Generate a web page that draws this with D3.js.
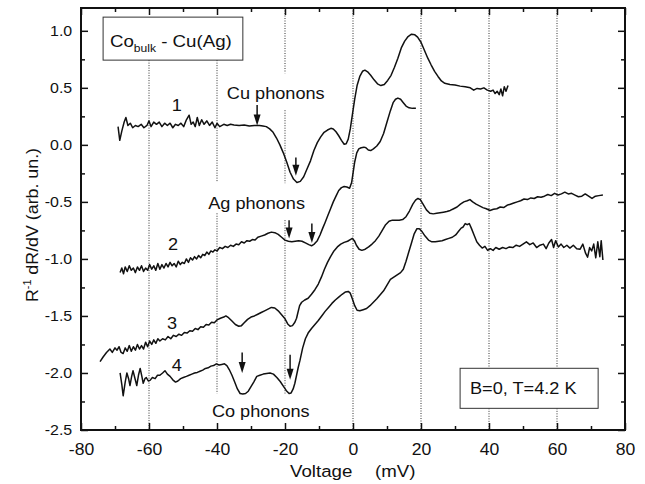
<!DOCTYPE html>
<html>
<head>
<meta charset="utf-8">
<script src="https://cdn.jsdelivr.net/npm/d3@7"></script>
<style>
body { margin: 0; background: #fff; }
svg text { font-family: "Liberation Sans", Arial, sans-serif; fill: #111; }
</style>
</head>
<body>
<div id="chart"></div>
<script>
// Curve 1
var curve1V = [-69.1,-68.6,-68.0,-67.3,-66.8,-66.2,-65.5,-64.8,-64.0,-63.2,-62.3,-61.5,-60.6,-60.0,-59.4,-58.6,-57.8,-57.0,-56.2,-55.4,-54.6,-53.8,-53.0,-52.2,-51.4,-50.6,-49.8,-49.0,-48.2,-47.6,-47.0,-46.4,-45.8,-45.2,-44.5,-43.8,-43.0,-42.2,-41.4,-40.6,-40.0,-39.2,-38.0,-37.0,-36.0,-35.0,-33.5,-32.0,-30.5,-29.0,-27.5,-26.5,-25.5,-24.5,-23.5,-22.5,-21.5,-20.5,-19.5,-18.5,-17.5,-16.5,-15.5,-14.5,-13.5,-12.5,-11.5,-10.5,-9.5,-8.5,-7.5,-6.5,-5.8,-5.0,-4.2,-3.4,-2.6,-2.0,-1.4,-0.8,-0.2,0.5,1.2,2.0,2.8,3.5,4.3,5.2,6.2,7.2,8.2,9.2,10.2,11.2,12.2,13.2,14.2,15.2,16.2,17.2,18.2,19.0,20.0,21.0,22.0,23.0,24.0,25.0,26.0,27.0,28.5,30.0,31.5,33.0,34.5,35.5,36.5,37.5,38.5,39.5,40.5,41.2,41.8,42.4,43.0,43.5,44.0,44.5,45.0,45.6];
var curve1Y = [0.16,0.04,0.12,0.20,0.24,0.17,0.19,0.15,0.17,0.16,0.18,0.15,0.17,0.21,0.16,0.20,0.18,0.20,0.16,0.19,0.17,0.19,0.15,0.18,0.17,0.19,0.16,0.22,0.26,0.18,0.20,0.16,0.24,0.17,0.22,0.18,0.21,0.17,0.20,0.15,0.19,0.16,0.18,0.17,0.18,0.175,0.17,0.175,0.165,0.17,0.17,0.165,0.16,0.14,0.11,0.06,0.00,-0.07,-0.15,-0.24,-0.30,-0.33,-0.32,-0.28,-0.21,-0.14,-0.05,0.02,0.07,0.11,0.13,0.145,0.14,0.115,0.08,0.04,0.005,0.01,0.05,0.14,0.26,0.40,0.52,0.60,0.645,0.655,0.64,0.61,0.57,0.535,0.52,0.53,0.565,0.61,0.68,0.76,0.85,0.91,0.95,0.97,0.965,0.945,0.90,0.83,0.76,0.70,0.645,0.60,0.56,0.54,0.53,0.525,0.515,0.51,0.50,0.48,0.495,0.49,0.50,0.48,0.47,0.48,0.45,0.47,0.44,0.49,0.43,0.51,0.47,0.52];

// Curve 2
var curve2V = [-68.5,-68.0,-67.5,-67.0,-66.4,-65.8,-65.2,-64.6,-64.0,-63.4,-62.8,-62.2,-61.6,-61.0,-60.4,-59.8,-59.2,-58.6,-58.0,-57.4,-56.8,-56.2,-55.6,-55.0,-54.4,-53.8,-53.2,-52.6,-52.0,-51.4,-50.8,-50.2,-49.6,-49.0,-48.4,-47.8,-47.2,-46.6,-46.0,-45.4,-44.8,-44.2,-43.6,-43.0,-42.4,-41.8,-41.2,-40.6,-40.0,-39.2,-38.4,-37.6,-36.8,-36.0,-35.2,-34.4,-33.6,-32.8,-32.0,-31.2,-30.4,-29.6,-28.8,-28.0,-27.0,-26.0,-25.0,-24.0,-23.0,-22.0,-21.0,-20.0,-19.0,-18.0,-17.0,-16.0,-15.0,-14.0,-13.0,-12.2,-11.4,-10.5,-9.7,-8.9,-8.2,-7.4,-6.6,-5.8,-5.0,-4.2,-3.4,-2.6,-1.8,-1.0,-0.4,0.0,0.5,1.1,1.7,2.4,3.2,3.8,4.5,5.2,6.0,7.0,8.0,9.0,10.0,11.0,11.8,12.5,13.2,14.0,14.8,15.6,16.5,17.5,18.5];
var curve2Y = [-1.12,-1.08,-1.13,-1.07,-1.11,-1.06,-1.10,-1.08,-1.12,-1.07,-1.10,-1.06,-1.11,-1.08,-1.10,-1.05,-1.09,-1.06,-1.10,-1.04,-1.09,-1.05,-1.08,-1.04,-1.07,-1.03,-1.06,-1.04,-1.07,-1.02,-1.05,-1.03,-1.04,-1.00,-1.03,-0.99,-1.01,-0.98,-1.00,-0.97,-0.99,-0.96,-0.97,-0.94,-0.96,-0.93,-0.94,-0.92,-0.93,-0.90,-0.91,-0.89,-0.90,-0.88,-0.89,-0.87,-0.875,-0.85,-0.86,-0.84,-0.845,-0.83,-0.835,-0.81,-0.80,-0.79,-0.775,-0.765,-0.77,-0.785,-0.81,-0.835,-0.845,-0.85,-0.845,-0.84,-0.845,-0.86,-0.875,-0.885,-0.87,-0.84,-0.79,-0.73,-0.68,-0.62,-0.56,-0.50,-0.45,-0.40,-0.375,-0.365,-0.37,-0.38,-0.33,-0.25,-0.15,-0.07,-0.035,-0.025,-0.02,-0.025,-0.045,-0.05,-0.035,-0.01,0.03,0.10,0.20,0.30,0.37,0.40,0.41,0.40,0.37,0.34,0.325,0.32,0.32];

// Curve 3
var curve3V = [-74.4,-73.5,-72.5,-71.5,-70.8,-70.0,-69.4,-68.8,-68.2,-67.6,-67.0,-66.4,-65.8,-65.2,-64.6,-64.0,-63.4,-62.8,-62.2,-61.6,-61.0,-60.4,-59.8,-59.2,-58.6,-58.0,-57.4,-56.8,-56.0,-55.2,-54.4,-53.6,-52.8,-52.0,-51.2,-50.4,-49.6,-48.8,-48.0,-47.2,-46.4,-45.6,-44.8,-44.0,-43.2,-42.4,-41.6,-40.8,-40.0,-39.0,-38.0,-37.4,-36.6,-35.6,-34.6,-33.6,-32.8,-32.0,-31.0,-30.0,-29.0,-28.0,-27.0,-26.0,-25.0,-24.0,-23.0,-22.0,-21.0,-20.0,-19.2,-18.5,-17.8,-17.1,-16.6,-16.2,-15.7,-15.1,-14.2,-13.2,-12.2,-11.2,-10.2,-9.3,-8.4,-7.5,-6.6,-5.6,-4.6,-3.6,-2.6,-1.6,-0.8,-0.2,0.4,1.0,1.8,2.6,3.6,4.6,5.6,6.6,7.6,8.6,9.6,10.6,11.6,12.6,13.6,14.6,15.6,16.6,17.6,18.4,19.1,19.8,20.6,21.6,22.6,23.6,24.6,25.6,26.6,27.6,28.6,29.6,30.6,31.6,32.6,33.6,34.4,35.2,36.2,37.2,38.2,39.2,40.3,41.3,42.3,43.3,44.3,45.3,46.3,47.3,48.3,49.3,50.3,51.3,52.3,53.3,54.3,55.3,56.3,57.3,58.3,59.3,60.3,61.3,62.3,63.3,64.3,65.3,66.3,67.3,68.3,69.3,70.3,71.3,72.3,73.5];
var curve3Y = [-1.90,-1.86,-1.82,-1.79,-1.82,-1.78,-1.80,-1.77,-1.82,-1.83,-1.78,-1.81,-1.76,-1.81,-1.77,-1.80,-1.75,-1.79,-1.76,-1.79,-1.73,-1.77,-1.72,-1.75,-1.71,-1.74,-1.70,-1.72,-1.70,-1.71,-1.68,-1.70,-1.67,-1.68,-1.66,-1.67,-1.645,-1.65,-1.63,-1.635,-1.61,-1.62,-1.595,-1.60,-1.575,-1.58,-1.555,-1.56,-1.535,-1.52,-1.51,-1.50,-1.515,-1.545,-1.575,-1.59,-1.585,-1.56,-1.53,-1.51,-1.50,-1.485,-1.47,-1.455,-1.44,-1.425,-1.43,-1.455,-1.49,-1.525,-1.57,-1.59,-1.585,-1.555,-1.52,-1.47,-1.41,-1.38,-1.36,-1.345,-1.31,-1.27,-1.22,-1.16,-1.09,-1.03,-0.98,-0.93,-0.895,-0.87,-0.855,-0.845,-0.83,-0.82,-0.84,-0.88,-0.915,-0.925,-0.915,-0.895,-0.87,-0.84,-0.80,-0.75,-0.70,-0.67,-0.66,-0.66,-0.66,-0.655,-0.63,-0.58,-0.52,-0.485,-0.47,-0.48,-0.52,-0.57,-0.60,-0.605,-0.60,-0.595,-0.59,-0.585,-0.575,-0.56,-0.545,-0.52,-0.50,-0.49,-0.48,-0.50,-0.52,-0.535,-0.55,-0.56,-0.575,-0.565,-0.56,-0.545,-0.55,-0.53,-0.52,-0.51,-0.50,-0.49,-0.475,-0.48,-0.465,-0.47,-0.455,-0.46,-0.45,-0.435,-0.445,-0.425,-0.44,-0.43,-0.415,-0.43,-0.425,-0.44,-0.455,-0.45,-0.43,-0.45,-0.47,-0.45,-0.445,-0.44];

// Curve 4
var curve4V = [-68.5,-68.0,-67.6,-67.0,-66.5,-66.0,-65.6,-65.1,-64.7,-64.2,-63.6,-63.1,-62.6,-62.1,-61.7,-61.2,-60.8,-60.2,-59.7,-59.0,-58.2,-57.5,-56.8,-56.0,-55.3,-54.6,-53.8,-53.0,-52.2,-51.5,-50.7,-49.9,-49.0,-48.2,-47.4,-46.6,-45.8,-45.0,-44.2,-43.4,-42.6,-41.8,-41.0,-40.2,-39.4,-38.6,-37.8,-37.1,-36.4,-35.6,-34.8,-34.0,-33.2,-32.4,-31.6,-30.8,-30.0,-29.2,-28.3,-27.4,-26.4,-25.4,-24.4,-23.4,-22.4,-21.4,-20.4,-19.6,-18.8,-18.2,-17.6,-17.1,-16.6,-16.1,-15.6,-14.8,-14.0,-13.2,-12.2,-11.2,-10.2,-9.2,-8.2,-7.2,-6.2,-5.2,-4.2,-3.2,-2.2,-1.4,-0.8,-0.2,0.5,1.2,2.0,3.0,4.0,5.0,6.0,7.0,8.0,9.0,10.0,11.0,12.0,13.0,14.0,14.8,15.6,16.4,17.2,18.0,18.8,19.5,20.3,21.2,22.2,23.2,24.2,25.2,26.2,27.2,28.2,29.2,30.2,31.0,31.8,32.4,33.0,33.6,34.2,34.8,35.6,36.4,37.2,38.0,38.8,39.6,40.4,41.2,42.0,43.0,44.0,45.0,46.0,47.0,48.0,49.0,50.0,51.0,52.0,53.0,54.0,55.0,56.0,56.8,57.6,58.4,59.0,59.6,60.4,61.2,62.0,62.9,63.8,64.8,65.8,66.8,67.6,68.4,69.0,69.6,70.2,70.8,71.4,72.0,72.6,73.0,73.5];
var curve4Y = [-2.00,-2.10,-2.20,-2.08,-2.00,-2.05,-2.11,-2.03,-1.98,-2.04,-2.11,-2.02,-1.96,-2.03,-2.09,-2.05,-2.04,-2.07,-2.065,-2.04,-2.05,-2.02,-2.02,-2.00,-1.98,-2.01,-2.03,-2.06,-2.08,-2.07,-2.05,-2.04,-2.03,-2.02,-2.01,-2.00,-1.995,-1.985,-1.975,-1.96,-1.955,-1.94,-1.935,-1.92,-1.93,-1.925,-1.92,-1.935,-1.97,-2.02,-2.08,-2.14,-2.18,-2.185,-2.18,-2.16,-2.12,-2.08,-2.03,-2.02,-2.01,-2.005,-2.00,-2.01,-2.04,-2.075,-2.12,-2.155,-2.18,-2.175,-2.14,-2.09,-2.02,-1.95,-1.89,-1.78,-1.70,-1.65,-1.61,-1.575,-1.54,-1.50,-1.46,-1.425,-1.39,-1.36,-1.335,-1.31,-1.29,-1.285,-1.30,-1.35,-1.41,-1.45,-1.455,-1.445,-1.435,-1.41,-1.38,-1.35,-1.315,-1.28,-1.23,-1.18,-1.16,-1.14,-1.12,-1.09,-1.02,-0.94,-0.86,-0.78,-0.735,-0.735,-0.76,-0.80,-0.835,-0.85,-0.85,-0.845,-0.84,-0.83,-0.82,-0.81,-0.79,-0.76,-0.73,-0.72,-0.69,-0.70,-0.69,-0.73,-0.79,-0.85,-0.88,-0.905,-0.89,-0.925,-0.91,-0.925,-0.90,-0.915,-0.90,-0.91,-0.895,-0.90,-0.88,-0.89,-0.87,-0.85,-0.875,-0.86,-0.90,-0.88,-0.87,-0.91,-0.86,-0.83,-0.90,-0.84,-0.895,-0.87,-0.90,-0.88,-0.905,-0.88,-0.91,-0.915,-0.87,-0.95,-0.985,-0.90,-0.93,-0.87,-0.99,-0.85,-0.98,-0.84,-1.01];

// Ticks
var xMajor = [-80, -60, -40, -20, 0, 20, 40, 60, 80];
var xMinor = [-70, -50, -30, -10, 10, 30, 50, 70];
var yMajor = [-2.5, -2.0, -1.5, -1.0, -0.5, 0.0, 0.5, 1.0];
var yMinor = [-2.25, -1.75, -1.25, -0.75, -0.25, 0.25, 0.75];

// Phonon arrows (mV, top of arrow, tip of arrow)
var arrowV = [-28.2, -16.8, -18.8, -12.1, -32.6, -18.5];
var arrowTop = [0.35, -0.11, -0.66, -0.69, -1.82, -1.84];
var arrowTip = [0.17, -0.27, -0.82, -0.86, -2.00, -2.06];

// Curve numbers
var curveNames = ["1", "2", "3", "4"];
var nameV = [-51.8, -52.9, -53.2, -51.8];
var nameY = [0.30, -0.924, -1.617, -1.985];

// SVG area
var svgWidth = 645;
var svgHeight = 484;
var margin = {top: 8, right: 20, bottom: 54, left: 81};
var chartWidth = svgWidth - margin.left - margin.right;
var chartHeight = svgHeight - margin.top - margin.bottom;

var svg = d3.select("#chart").append("svg")
    .attr("width", svgWidth)
    .attr("height", svgHeight)
    .style("background", "#fff");

var plot = svg.append("g")
    .attr("transform", `translate(${margin.left}, ${margin.top})`);

var x = d3.scaleLinear().domain([-80, 80]).range([0, chartWidth]);
var y = d3.scaleLinear().domain([-2.5, 1.2]).range([chartHeight, 0]);

// dotted vertical grid, broken where text / boxes sit
var gridSegs = [
    [-60, 0.743, -2.5],
    [-40, 0.743, -0.33], [-40, -0.60, -2.18],
    [-20, 1.2, 0.628], [-20, 0.304, -0.336], [-20, -0.66, -2.18],
    [0, 1.2, -2.5],
    [20, 1.2, -2.5],
    [40, 1.2, -1.959], [40, -2.31, -2.5],
    [60, 1.2, -1.959], [60, -2.31, -2.5]
];
plot.selectAll(".grid")
    .data(gridSegs)
    .enter()
    .append("line")
    .attr("class", "grid")
    .attr("x1", d => x(d[0])).attr("x2", d => x(d[0]))
    .attr("y1", d => y(d[1])).attr("y2", d => y(d[2]))
    .attr("stroke", "#333")
    .attr("stroke-width", 1)
    .attr("stroke-dasharray", "1,1.5");

// helper for stretched text
function label(vx, vy, str, size, anchor) {
    return plot.append("text")
        .attr("transform", `translate(${x(vx)}, ${y(vy)}) scale(1.1,1)`)
        .attr("text-anchor", anchor || "start")
        .style("font-size", size + "px")
        .text(str);
}

// axes
function fmtX(d) { return String(d); }
function fmtY(d) { return d.toFixed(1); }

function styleAxis(g) {
    g.select(".domain").remove();
    g.selectAll("line").attr("stroke", "#111").attr("stroke-width", 1.5);
}

plot.append("g")
    .attr("transform", `translate(0, ${chartHeight})`)
    .call(d3.axisBottom(x).tickValues(xMajor).tickSize(-7).tickPadding(14).tickFormat(fmtX))
    .call(styleAxis)
    .call(g => g.selectAll("text").style("font-size", "16px").attr("fill", "#111")
        .attr("font-family", "Liberation Sans, Arial, sans-serif").attr("transform", "scale(1.1,1)"));
plot.append("g")
    .attr("transform", `translate(0, ${chartHeight})`)
    .call(d3.axisBottom(x).tickValues(xMinor).tickSize(-4).tickFormat(""))
    .call(styleAxis);
plot.append("g")
    .call(d3.axisTop(x).tickValues(xMajor).tickSize(-7).tickFormat(""))
    .call(styleAxis);
plot.append("g")
    .call(d3.axisTop(x).tickValues(xMinor).tickSize(-4).tickFormat(""))
    .call(styleAxis);

plot.append("g")
    .call(d3.axisLeft(y).tickValues(yMajor).tickSize(-7).tickPadding(8).tickFormat(fmtY))
    .call(styleAxis)
    .call(g => g.selectAll("text").style("font-size", "14.5px").attr("fill", "#111")
        .attr("font-family", "Liberation Sans, Arial, sans-serif").attr("transform", "scale(1.1,1)"));
plot.append("g")
    .call(d3.axisLeft(y).tickValues(yMinor).tickSize(-4).tickFormat(""))
    .call(styleAxis);
plot.append("g")
    .attr("transform", `translate(${chartWidth}, 0)`)
    .call(d3.axisRight(y).tickValues(yMajor).tickSize(-7).tickFormat(""))
    .call(styleAxis);
plot.append("g")
    .attr("transform", `translate(${chartWidth}, 0)`)
    .call(d3.axisRight(y).tickValues(yMinor).tickSize(-4).tickFormat(""))
    .call(styleAxis);

// frame
plot.append("rect")
    .attr("width", chartWidth)
    .attr("height", chartHeight)
    .attr("fill", "none")
    .attr("stroke", "#111")
    .attr("stroke-width", 2);

// curves
var line = d3.line()
    .x(d => x(d[0]))
    .y(d => y(d[1]));

var curves = [
    d3.zip(curve1V, curve1Y),
    d3.zip(curve2V, curve2Y),
    d3.zip(curve3V, curve3Y),
    d3.zip(curve4V, curve4Y)
];
plot.selectAll(".curve")
    .data(curves)
    .enter()
    .append("path")
    .attr("class", "curve")
    .attr("d", line)
    .attr("fill", "none")
    .attr("stroke", "#111")
    .attr("stroke-width", 1.5)
    .attr("stroke-linejoin", "round");

// arrows
arrowV.forEach(function (v, i) {
    var ax = x(v);
    var tip = y(arrowTip[i]);
    plot.append("line")
        .attr("x1", ax).attr("x2", ax)
        .attr("y1", y(arrowTop[i])).attr("y2", tip - 6)
        .attr("stroke", "#111")
        .attr("stroke-width", 1.5);
    plot.append("path")
        .attr("d", `M${ax - 3.5},${tip - 11} L${ax + 3.5},${tip - 11} L${ax},${tip} Z`)
        .attr("fill", "#111");
});

// boxes
plot.append("rect")
    .attr("x", x(-73.5)).attr("y", y(1.12))
    .attr("width", x(-32.4) - x(-73.5)).attr("height", y(0.743) - y(1.12))
    .attr("fill", "#fff").attr("stroke", "#333").attr("stroke-width", 1);
plot.append("rect")
    .attr("x", x(31.5)).attr("y", y(-1.959))
    .attr("width", x(72.1) - x(31.5)).attr("height", y(-2.31) - y(-1.959))
    .attr("fill", "#fff").attr("stroke", "#333").attr("stroke-width", 1);

var title = label(-71.5, 0.857, "", 17);
title.append("tspan").text("Co");
title.append("tspan").attr("dy", 5).style("font-size", "11px").text("bulk");
title.append("tspan").attr("dy", -5).text(" - Cu(Ag)");

label(34.4, -2.187, "B=0, T=4.2 K", 16.5);

// annotations
label(-37.1, 0.40, "Cu phonons", 16.5);
label(-42.6, -0.564, "Ag phonons", 16.5);
label(-41.5, -2.389, "Co phonons", 16.5);
curveNames.forEach(function (n, i) {
    label(nameV[i], nameY[i], n, 16.5, "middle");
});

// axis titles
svg.append("text")
    .attr("transform", "translate(290, 477) scale(1.1,1)")
    .style("font-size", "17px")
    .text("Voltage");
svg.append("text")
    .attr("transform", "translate(375, 477) scale(1.1,1)")
    .style("font-size", "17px")
    .text("(mV)");

var yTitle = svg.append("text")
    .attr("transform", "translate(38, 225) rotate(-90) scale(1.08,1)")
    .attr("text-anchor", "middle")
    .style("font-size", "16.5px");
yTitle.append("tspan").text("R");
yTitle.append("tspan").attr("dy", -7).style("font-size", "10px").text("-1");
yTitle.append("tspan").attr("dy", 7).text(" dR/dV  (arb. un.)");
</script>
</body>
</html>
